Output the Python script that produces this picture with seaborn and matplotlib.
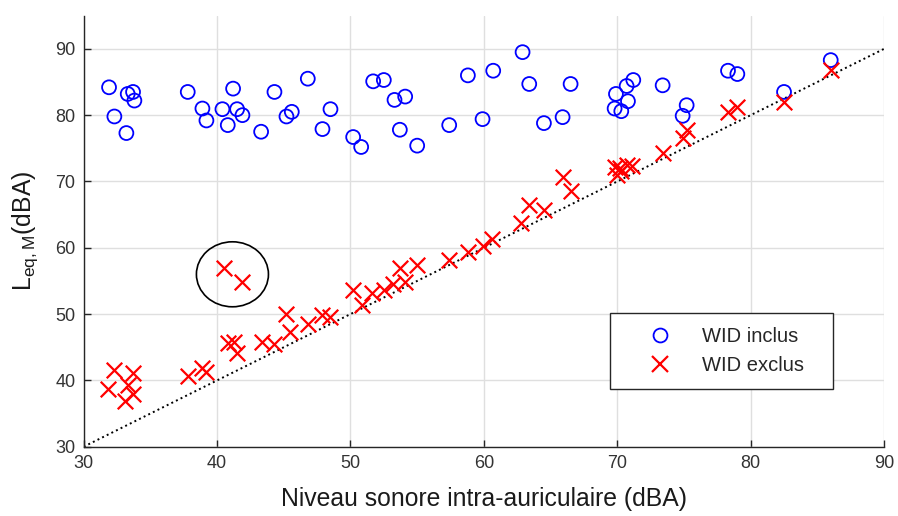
import matplotlib
matplotlib.use("Agg")
import matplotlib.pyplot as plt
from matplotlib.patches import Ellipse
from matplotlib.lines import Line2D
import seaborn as sns
import pandas as pd

# In-ear level (x) vs L_eq,M (y), with the WID included and excluded
inclus_x = [31.9, 32.3, 33.2, 33.3, 33.7, 33.8, 37.8, 38.9, 39.2, 40.4, 40.8, 41.2, 41.5,
            41.9, 43.3, 44.3, 45.2, 45.6, 46.8, 47.9, 48.5, 50.2, 50.8, 51.7, 52.5, 53.3,
            53.7, 54.1, 55.0, 57.4, 58.8, 59.9, 60.7, 62.9, 63.4, 64.5, 65.9, 66.5, 69.8,
            69.9, 70.3, 70.7, 70.8, 71.2, 73.4, 74.9, 75.2, 78.3, 79.0, 82.5, 86.0]
inclus_y = [84.2, 79.8, 77.3, 83.2, 83.5, 82.2, 83.5, 81.0, 79.2, 80.9, 78.5, 84.0, 80.9,
            80.0, 77.5, 83.5, 79.8, 80.5, 85.5, 77.9, 80.9, 76.7, 75.2, 85.1, 85.3, 82.3,
            77.8, 82.8, 75.4, 78.5, 86.0, 79.4, 86.7, 89.5, 84.7, 78.8, 79.7, 84.7, 81.0,
            83.2, 80.6, 84.4, 82.1, 85.3, 84.5, 79.9, 81.5, 86.7, 86.2, 83.5, 88.3]

exclus_x = [31.8, 32.3, 33.1, 33.3, 33.7, 33.7, 37.8, 38.9, 39.2, 40.5, 40.8, 41.3, 41.5,
            41.9, 43.4, 44.3, 45.2, 45.5, 46.8, 47.9, 48.5, 50.2, 50.9, 51.6, 52.5, 53.2,
            53.7, 54.1, 55.0, 57.4, 58.8, 59.9, 60.6, 62.8, 63.4, 64.5, 65.9, 66.5, 69.8,
            70.0, 70.3, 70.7, 71.1, 70.2, 73.4, 74.9, 75.2, 78.3, 79.0, 82.5, 86.0]
exclus_y = [38.7, 41.5, 36.9, 39.3, 41.1, 38.0, 40.6, 41.8, 41.2, 56.9, 45.7, 45.8, 44.2,
            54.9, 45.8, 45.5, 50.0, 47.3, 48.5, 49.9, 49.5, 53.6, 51.3, 53.2, 53.6, 54.5,
            57.0, 54.9, 57.4, 58.2, 59.4, 60.3, 61.3, 63.7, 66.5, 65.7, 70.6, 68.6, 72.2,
            71.0, 71.6, 72.5, 72.3, 72.0, 74.3, 76.5, 77.7, 80.4, 81.2, 82.0, 86.8]

labels = ["WID inclus", "WID exclus"]
ticks = [30, 40, 50, 60, 70, 80, 90]

sns.set_style("white")
plt.rcParams["font.family"] = ["Liberation Sans", "DejaVu Sans"]
plt.rcParams["mathtext.fontset"] = "custom"
plt.rcParams["mathtext.rm"] = "Liberation Sans"

fig = plt.figure(figsize=(8.98, 5.16), dpi=100)
ax = fig.add_axes([0.0932, 0.1343, 0.8913, 0.8353])

df_in = pd.DataFrame({"x": inclus_x, "y": inclus_y})
df_ex = pd.DataFrame({"x": exclus_x, "y": exclus_y})

ax.grid(True, color="#dfdfdf", lw=1.0, zorder=0)
ax.set_axisbelow(True)

ax.plot([30, 90], [30, 90], ls=":", color="black", lw=1.4, zorder=2)

sns.scatterplot(data=df_in, x="x", y="y", ax=ax, marker="o", s=100,
                color="blue", linewidth=1.3, zorder=3)
coll_in = ax.collections[-1]
coll_in.set_facecolor("none")
coll_in.set_edgecolor("blue")

sns.scatterplot(data=df_ex, x="x", y="y", ax=ax, marker="x", s=125,
                color="red", linewidth=1.6, zorder=4)
coll_ex = ax.collections[-1]
coll_ex.set_edgecolor("red")

# highlight the two outlying points
ax.add_patch(Ellipse((41.15, 56.0), 5.4, 9.8, fill=False, ec="black", lw=1.2, zorder=5))

ax.set_xlim(30, 90)
ax.set_ylim(30, 95)
ax.set_xticks(ticks)
ax.set_yticks(ticks)

for side in ["top", "right"]:
    ax.spines[side].set_visible(False)
for side in ["left", "bottom"]:
    ax.spines[side].set_color("#262626")
    ax.spines[side].set_linewidth(1.0)
ax.tick_params(direction="in", length=5, width=1.0, color="#262626",
               labelcolor="#333333", labelsize=13, pad=6,
               left=True, bottom=True)

ax.set_xlabel("Niveau sonore intra-auriculaire (dBA)", fontsize=17.8, color="#1a1a1a", labelpad=11)
ax.set_ylabel(r"$\mathregular{L_{eq,M}}$(dBA)", fontsize=17.8, color="#1a1a1a", labelpad=11)

handles = [
    Line2D([], [], ls="none", marker="o", mfc="none", mec="blue", ms=10, mew=1.3),
    Line2D([], [], ls="none", marker="x", mec="red", ms=11, mew=1.6),
]
leg = ax.legend(handles, labels, loc="lower left",
                bbox_to_anchor=(0.658, 0.134, 0.278, 0.17), mode="expand",
                fontsize=14.5, frameon=True, fancybox=False, edgecolor="#262626",
                framealpha=1, borderpad=0.7, handlelength=3.5, handletextpad=0.35,
                labelspacing=0.5, borderaxespad=0)
leg.get_frame().set_linewidth(1.0)

fig.savefig("out.png", dpi=100)
